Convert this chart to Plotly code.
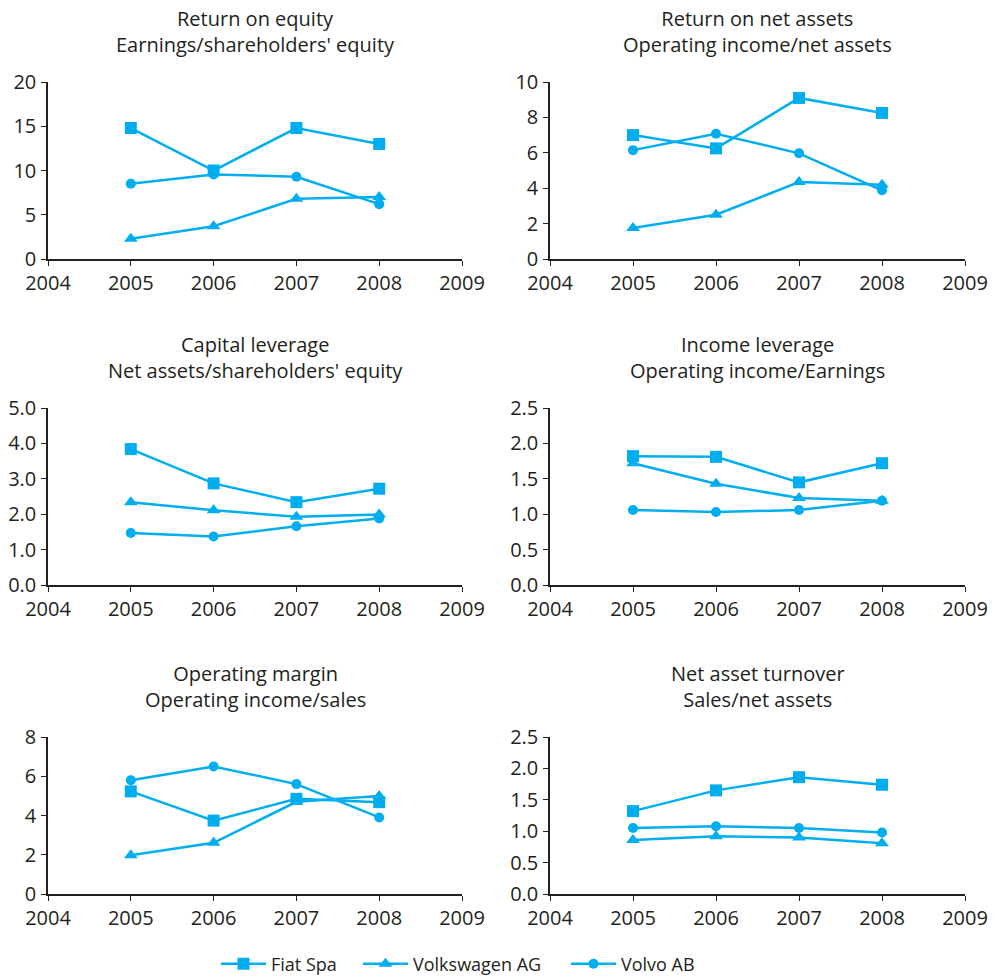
import plotly.graph_objects as go

years = [2005, 2006, 2007, 2008]
series_names = ["Fiat Spa", "Volkswagen AG", "Volvo AB"]

titles = [
    "Return on equity<br>Earnings/shareholders' equity",
    "Return on net assets<br>Operating income/net assets",
    "Capital leverage<br>Net assets/shareholders' equity",
    "Income leverage<br>Operating income/Earnings",
    "Operating margin<br>Operating income/sales",
    "Net asset turnover<br>Sales/net assets",
]

roe_fiat = [14.8, 10.0, 14.8, 13.0]
roe_vw = [2.3, 3.7, 6.8, 7.0]
roe_volvo = [8.5, 9.55, 9.3, 6.2]

rona_fiat = [7.0, 6.25, 9.1, 8.25]
rona_vw = [1.75, 2.5, 4.35, 4.2]
rona_volvo = [6.15, 7.08, 5.97, 3.88]

cap_fiat = [3.84, 2.87, 2.34, 2.72]
cap_vw = [2.34, 2.11, 1.93, 1.99]
cap_volvo = [1.47, 1.37, 1.66, 1.88]

inc_fiat = [1.82, 1.81, 1.45, 1.72]
inc_vw = [1.72, 1.43, 1.23, 1.19]
inc_volvo = [1.06, 1.03, 1.06, 1.19]

om_fiat = [5.23, 3.74, 4.85, 4.68]
om_vw = [1.97, 2.61, 4.7, 5.0]
om_volvo = [5.8, 6.5, 5.6, 3.9]

nat_fiat = [1.32, 1.65, 1.86, 1.74]
nat_vw = [0.86, 0.92, 0.9, 0.81]
nat_volvo = [1.05, 1.08, 1.05, 0.98]

panels = [
    (roe_fiat, roe_vw, roe_volvo),
    (rona_fiat, rona_vw, rona_volvo),
    (cap_fiat, cap_vw, cap_volvo),
    (inc_fiat, inc_vw, inc_volvo),
    (om_fiat, om_vw, om_volvo),
    (nat_fiat, nat_vw, nat_volvo),
]

y_ranges = [(0, 20, 5, "d"), (0, 10, 2, "d"), (0, 5, 1, ".1f"),
            (0, 2.5, 0.5, ".1f"), (0, 8, 2, "d"), (0, 2.5, 0.5, ".1f")]

W, H = 1001, 978
OFF = 8  # page body margin
COLOR = "#00AEEF"
DARK = "#231F20"
FONT = "Open Sans"
symbols = ["square", "triangle-up", "circle"]
msizes = [12, 12, 10]


def fx(px):
    return (px - OFF) / W


def fy(py):
    return 1 - (py - OFF) / H


# pixel geometry of each panel on the page: (left, right), (top, bottom)
col_x = [(48, 462), (550, 965)]
row_y = [(82, 259), (408, 585), (737, 894)]
legend_x = [216, 358, 566]
legend_names = ["legend", "legend2", "legend3"]

fig = go.Figure()
for i, data in enumerate(panels):
    r, c = divmod(i, 2)
    ax = "" if i == 0 else str(i + 1)
    for s, vals in enumerate(data):
        fig.add_trace(go.Scatter(
            x=years, y=vals, mode="lines+markers", name=series_names[s],
            line=dict(color=COLOR, width=2.5),
            marker=dict(symbol=symbols[s], size=msizes[s], color=COLOR),
            xaxis="x" + ax, yaxis="y" + ax, showlegend=(i == 0),
            legend=legend_names[s],
        ))
    x0, x1 = col_x[c]
    y0, y1 = row_y[r]
    ymin, ymax, dt, fmt = y_ranges[i]
    fig.layout["xaxis" + ax] = dict(
        domain=[fx(x0), fx(x1)], anchor="y" + ax, range=[2004, 2009],
        tickmode="linear", tick0=2004, dtick=1, showgrid=False, zeroline=False,
        showline=True, linecolor=DARK, linewidth=1.5, ticks="outside",
        ticklen=5, tickcolor=DARK, ticklabelstandoff=0,
        tickfont=dict(size=20, color=DARK, family=FONT),
    )
    fig.layout["yaxis" + ax] = dict(
        domain=[fy(y1), fy(y0)], anchor="x" + ax, range=[ymin, ymax],
        tickmode="linear", tick0=0, dtick=dt, tickformat=fmt, showgrid=False,
        zeroline=False, showline=True, linecolor=DARK, linewidth=1.5,
        ticks="outside", ticklen=5, tickcolor=DARK, ticklabelstandoff=1,
        tickfont=dict(size=20, color=DARK, family=FONT),
    )
    fig.add_annotation(
        text=titles[i], x=fx((x0 + x1) / 2), y=fy(y0 - 23),
        xref="paper", yref="paper", xanchor="center", yanchor="bottom",
        showarrow=False, borderpad=0,
        font=dict(size=20, color=DARK, family=FONT),
    )

layout_legends = {}
for k, name in enumerate(legend_names):
    layout_legends[name] = dict(
        orientation="h", x=fx(legend_x[k]), xanchor="left", y=fy(964),
        yanchor="middle", font=dict(size=18, color=DARK, family=FONT),
        itemwidth=45, bgcolor="rgba(0,0,0,0)",
    )

fig.update_layout(
    width=W, height=H, margin=dict(l=0, r=0, t=0, b=0, autoexpand=False),
    paper_bgcolor="white", plot_bgcolor="white",
    font=dict(family=FONT, color=DARK, size=18),
    **layout_legends,
)

fig.write_html("out.html")
